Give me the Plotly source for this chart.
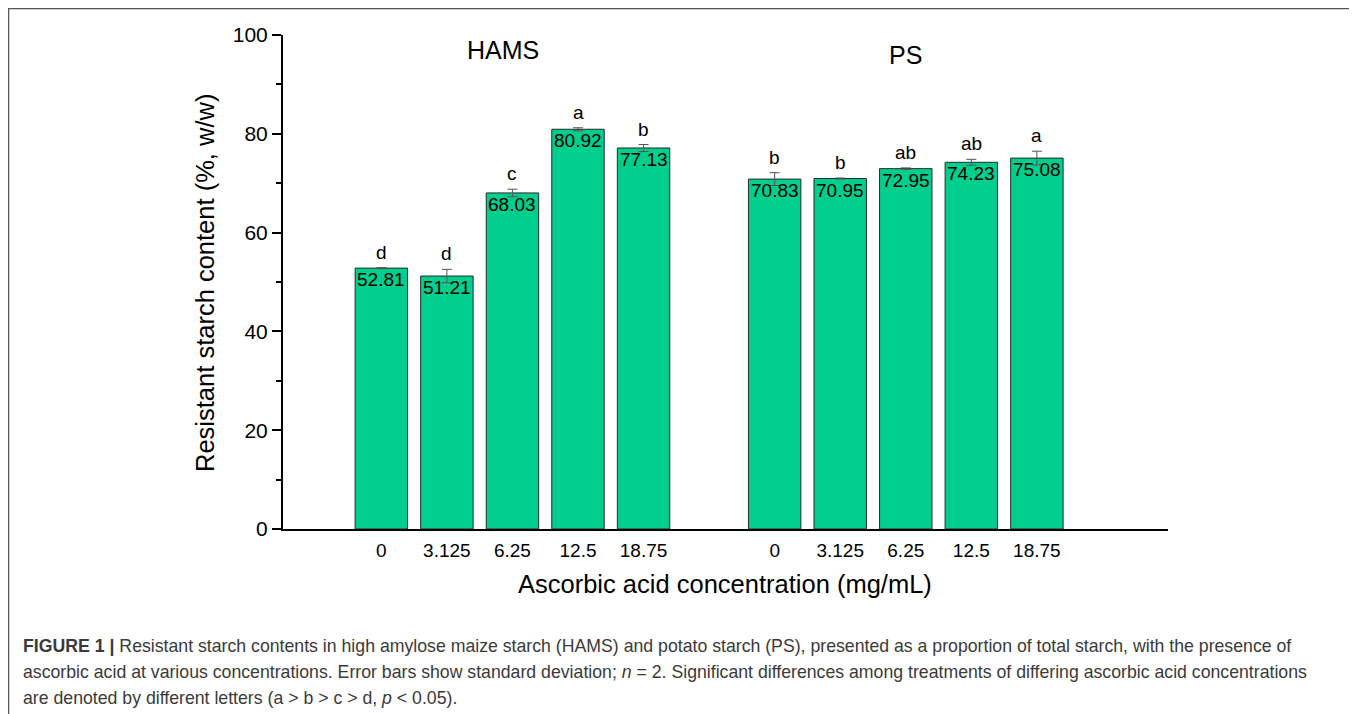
import plotly.graph_objects as go

# ---- data ----
concentrations = ["0", "3.125", "6.25", "12.5", "18.75"]
groups = ["HAMS", "PS"]
hams_values = [52.81, 51.21, 68.03, 80.92, 77.13]
ps_values = [70.83, 70.95, 72.95, 74.23, 75.08]
hams_sd = [0.1, 1.35, 0.75, 0.3, 0.7]
ps_sd = [1.3, 0.1, 0.15, 0.6, 1.4]
hams_letters = ["d", "d", "c", "a", "b"]
ps_letters = ["b", "b", "ab", "ab", "a"]
hams_pos = [0, 1, 2, 3, 4]
ps_pos = [6, 7, 8, 9, 10]

OFF = 8  # page body margin
W, H = 1357 - OFF, 714 - OFF
L, R, T, B = 283 - OFF, 1168 - OFF, 35 - OFF, 529 - OFF
FONT = "Liberation Sans, Arial, sans-serif"
BAR = "rgb(0,206,140)"

fig = go.Figure()
for pos, vals, sd in [(hams_pos, hams_values, hams_sd), (ps_pos, ps_values, ps_sd)]:
    fig.add_trace(go.Bar(
        x=pos, y=vals, width=0.8,
        marker=dict(color=BAR, line=dict(color="#2a2a2a", width=1)),
        error_y=dict(type="data", array=sd, visible=True, color="#555555",
                     thickness=1, width=5),
        showlegend=False, hoverinfo="skip",
    ))

annotations = []
for pos, vals, sd, letters in [(hams_pos, hams_values, hams_sd, hams_letters),
                               (ps_pos, ps_values, ps_sd, ps_letters)]:
    for p, v, s, l in zip(pos, vals, sd, letters):
        annotations.append(dict(x=p, y=v + s, xref="x", yref="y", text=l,
                                showarrow=False, xanchor="center", yanchor="bottom", yshift=3,
                                font=dict(family=FONT, size=19, color="black")))
        annotations.append(dict(x=p, y=v, xref="x", yref="y", text=f"{v:.2f}",
                                showarrow=False, xanchor="center", yanchor="top", yshift=1,
                                font=dict(family=FONT, size=19, color="black")))

annotations.append(dict(x=1.86, y=97, xref="x", yref="y", text=groups[0], showarrow=False,
                        xanchor="center", yanchor="middle",
                        font=dict(family=FONT, size=25, color="black")))
annotations.append(dict(x=8, y=96, xref="x", yref="y", text=groups[1], showarrow=False,
                        xanchor="center", yanchor="middle",
                        font=dict(family=FONT, size=25, color="black")))

def px_x(px):
    return (px - OFF - L) / (R - L)

def px_y(py):
    return (B - (py - OFF)) / (B - T)

# axis titles
annotations.append(dict(x=px_x(725), y=px_y(584), xref="paper", yref="paper",
                        text="Ascorbic acid concentration (mg/mL)", showarrow=False,
                        xanchor="center", yanchor="middle",
                        font=dict(family=FONT, size=25.5, color="black")))
annotations.append(dict(x=px_x(205), y=px_y(283), xref="paper", yref="paper",
                        text="Resistant starch content (%, w/w)", showarrow=False,
                        xanchor="center", yanchor="middle",
                        textangle=-90, font=dict(family=FONT, size=25.5, color="black")))

caption_lines = [
    "<b>FIGURE 1 |</b> Resistant starch contents in high amylose maize starch (HAMS) and potato starch (PS), presented as a proportion of total starch, with the presence of",
    "ascorbic acid at various concentrations. Error bars show standard deviation; <i>n</i> = 2. Significant differences among treatments of differing ascorbic acid concentrations",
    "are denoted by different letters (a > b > c > d, <i>p</i> < 0.05).",
]
for i, line in enumerate(caption_lines):
    annotations.append(dict(x=px_x(21), y=px_y(646 + 26 * i), xref="paper", yref="paper",
                            text=line, showarrow=False, xanchor="left", yanchor="middle",
                            font=dict(family=FONT, size=17.7, color="#3a3a3a")))

shapes = [dict(type="rect", xref="paper", yref="paper",
               x0=px_x(8.5), x1=px_x(1353), y0=px_y(730), y1=px_y(8.5),
               line=dict(color="#555555", width=1.5), fillcolor="rgba(0,0,0,0)", layer="below")]

fig.update_layout(
    width=W, height=H, autosize=False,
    margin=dict(l=L, r=W - R, t=T, b=H - B, pad=0),
    plot_bgcolor="white", paper_bgcolor="white",
    font=dict(family=FONT, color="black"),
    annotations=annotations, shapes=shapes,
    xaxis=dict(range=[-1.5, 12], tickmode="array",
               tickvals=hams_pos + ps_pos, ticktext=concentrations + concentrations,
               showline=True, linecolor="black", linewidth=2, ticks="",
               showgrid=False, zeroline=False, ticklabelstandoff=3,
               tickfont=dict(family=FONT, size=19, color="black")),
    yaxis=dict(range=[0, 100], tickmode="linear", tick0=0, dtick=20,
               showline=True, linecolor="black", linewidth=2,
               ticks="outside", ticklen=9, tickwidth=1.5, tickcolor="black",
               minor=dict(dtick=10, ticks="outside", ticklen=5, tickwidth=1.5, tickcolor="black"),
               showgrid=False, zeroline=False,
               tickfont=dict(family=FONT, size=21, color="black")),
)

fig.write_html("out.html")
